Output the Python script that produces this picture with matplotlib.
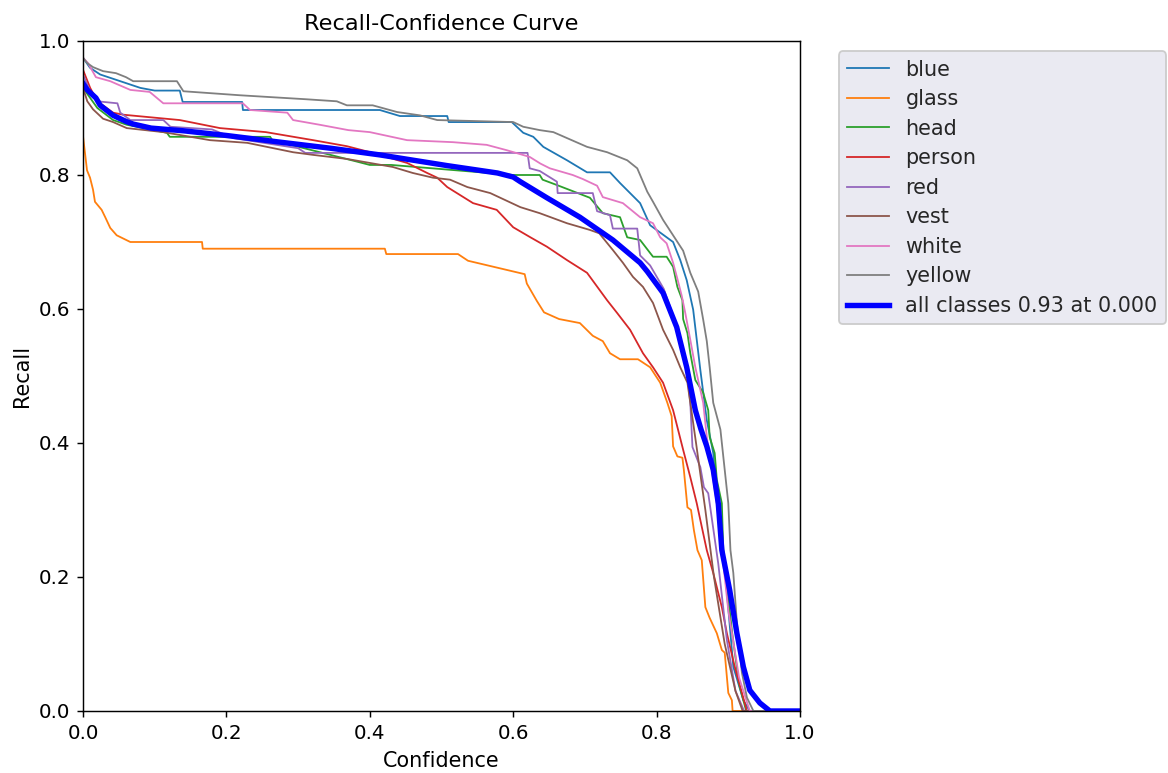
import matplotlib
matplotlib.use("Agg")
import matplotlib.pyplot as plt

class_names = ["blue", "glass", "head", "person", "red", "vest", "white", "yellow"]
class_colors = ["#1f77b4", "#ff7f0e", "#2ca02c", "#d62728", "#9467bd", "#8c564b", "#e377c2", "#7f7f7f"]

blue_conf = [0.0, 0.0098, 0.024, 0.052, 0.08, 0.10, 0.135, 0.139, 0.222, 0.223, 0.414, 0.442, 0.508, 0.510,
             0.598, 0.614, 0.628, 0.642, 0.675, 0.703, 0.735, 0.749, 0.777, 0.791, 0.823, 0.833, 0.842, 0.851,
             0.861, 0.870, 0.879, 0.884, 0.893, 0.907, 0.921, 0.930, 1.0]
blue_rec = [0.975, 0.96, 0.95, 0.94, 0.93, 0.926, 0.926, 0.909, 0.909, 0.897, 0.897, 0.888, 0.888, 0.879,
            0.879, 0.863, 0.857, 0.842, 0.822, 0.804, 0.804, 0.788, 0.758, 0.725, 0.70, 0.673, 0.643, 0.599,
            0.509, 0.434, 0.385, 0.31, 0.24, 0.066, 0.016, 0.0, 0.0]

glass_conf = [0.0, 0.0056, 0.0098, 0.014, 0.0167, 0.026, 0.031, 0.038, 0.047, 0.066, 0.166, 0.167, 0.421, 0.423,
              0.523, 0.537, 0.616, 0.619, 0.633, 0.643, 0.664, 0.693, 0.711, 0.725, 0.735, 0.749, 0.774, 0.791,
              0.805, 0.815, 0.821, 0.823, 0.829, 0.836, 0.838, 0.843, 0.848, 0.852, 0.857, 0.863, 0.868, 0.874,
              0.884, 0.891, 0.895, 0.900, 0.905, 0.906, 1.0]
glass_rec = [0.858, 0.807, 0.796, 0.778, 0.76, 0.748, 0.737, 0.721, 0.71, 0.70, 0.70, 0.69, 0.69, 0.682,
             0.682, 0.672, 0.652, 0.638, 0.612, 0.595, 0.585, 0.579, 0.560, 0.552, 0.534, 0.525, 0.525, 0.513,
             0.49, 0.46, 0.44, 0.395, 0.38, 0.378, 0.36, 0.304, 0.30, 0.27, 0.24, 0.225, 0.155, 0.139,
             0.116, 0.091, 0.087, 0.027, 0.016, 0.0, 0.0]

head_conf = [0.0, 0.02, 0.042, 0.061, 0.117, 0.121, 0.261, 0.264, 0.382, 0.400, 0.430, 0.600, 0.637, 0.641,
             0.661, 0.707, 0.725, 0.749, 0.759, 0.777, 0.795, 0.814, 0.823, 0.829, 0.836, 0.837, 0.843, 0.847,
             0.854, 0.865, 0.872, 0.874, 0.881, 0.884, 0.891, 0.893, 0.905, 0.915, 0.925, 1.0]
head_rec = [0.93, 0.90, 0.882, 0.875, 0.863, 0.857, 0.857, 0.852, 0.82, 0.815, 0.815, 0.80, 0.80, 0.793,
            0.785, 0.766, 0.743, 0.737, 0.707, 0.703, 0.678, 0.678, 0.663, 0.633, 0.613, 0.585, 0.564, 0.534,
            0.494, 0.475, 0.449, 0.409, 0.385, 0.345, 0.310, 0.24, 0.12, 0.04, 0.0, 0.0]

person_conf = [0.0, 0.01, 0.02, 0.042, 0.056, 0.135, 0.191, 0.255, 0.321, 0.368, 0.404, 0.452, 0.480, 0.494,
               0.508, 0.544, 0.577, 0.600, 0.624, 0.647, 0.675, 0.703, 0.731, 0.745, 0.763, 0.781, 0.795, 0.809,
               0.823, 0.837, 0.847, 0.856, 0.870, 0.879, 0.891, 0.898, 0.909, 0.919, 0.926, 1.0]
person_rec = [0.957, 0.93, 0.91, 0.893, 0.89, 0.882, 0.870, 0.864, 0.852, 0.843, 0.833, 0.818, 0.803, 0.796,
              0.782, 0.758, 0.748, 0.722, 0.707, 0.693, 0.673, 0.654, 0.613, 0.594, 0.569, 0.534, 0.513, 0.49,
              0.449, 0.39, 0.349, 0.31, 0.24, 0.206, 0.155, 0.116, 0.066, 0.027, 0.0, 0.0]

red_conf = [0.0, 0.01, 0.02, 0.048, 0.052, 0.066, 0.112, 0.122, 0.18, 0.21, 0.30, 0.31, 0.62, 0.623, 0.637,
            0.661, 0.662, 0.711, 0.717, 0.735, 0.739, 0.773, 0.777, 0.791, 0.81, 0.828, 0.842, 0.847, 0.850,
            0.861, 0.866, 0.872, 0.886, 0.898, 0.91, 0.922, 1.0]
red_rec = [0.95, 0.925, 0.91, 0.907, 0.893, 0.882, 0.882, 0.872, 0.868, 0.855, 0.84, 0.833, 0.833, 0.81, 0.806,
           0.79, 0.773, 0.773, 0.746, 0.74, 0.72, 0.72, 0.68, 0.665, 0.63, 0.575, 0.51, 0.46, 0.394,
           0.364, 0.334, 0.325, 0.22, 0.106, 0.03, 0.0, 0.0]

vest_conf = [0.0, 0.006, 0.014, 0.028, 0.042, 0.061, 0.112, 0.177, 0.229, 0.293, 0.321, 0.368, 0.432, 0.46,
             0.488, 0.512, 0.536, 0.568, 0.61, 0.637, 0.675, 0.707, 0.720, 0.739, 0.753, 0.767, 0.781, 0.795,
             0.809, 0.823, 0.833, 0.843, 0.855, 0.868, 0.88, 0.895, 0.91, 0.92, 1.0]
vest_rec = [0.93, 0.91, 0.898, 0.884, 0.879, 0.870, 0.864, 0.852, 0.848, 0.834, 0.830, 0.824, 0.812, 0.803,
            0.796, 0.793, 0.782, 0.773, 0.752, 0.743, 0.728, 0.718, 0.713, 0.688, 0.669, 0.648, 0.633, 0.609,
            0.569, 0.539, 0.513, 0.49, 0.40, 0.30, 0.2, 0.1, 0.03, 0.0, 0.0]

white_conf = [0.0, 0.007, 0.018, 0.038, 0.066, 0.093, 0.112, 0.223, 0.233, 0.285, 0.293, 0.33, 0.37, 0.40,
              0.452, 0.516, 0.563, 0.591, 0.623, 0.638, 0.651, 0.683, 0.697, 0.717, 0.725, 0.753, 0.777, 0.795,
              0.805, 0.814, 0.823, 0.829, 0.835, 0.840, 0.847, 0.854, 0.865, 0.870, 0.877, 0.884, 0.889, 0.90,
              0.915, 0.93, 1.0]
white_rec = [0.975, 0.967, 0.946, 0.94, 0.927, 0.924, 0.907, 0.907, 0.897, 0.893, 0.882, 0.875, 0.867, 0.864,
             0.852, 0.849, 0.845, 0.837, 0.827, 0.817, 0.81, 0.80, 0.794, 0.784, 0.767, 0.758, 0.737, 0.728,
             0.707, 0.698, 0.669, 0.645, 0.62, 0.594, 0.554, 0.513, 0.46, 0.409, 0.36, 0.31, 0.26, 0.15,
             0.05, 0.0, 0.0]

yellow_conf = [0.0, 0.006, 0.014, 0.028, 0.046, 0.060, 0.070, 0.131, 0.140, 0.219, 0.312, 0.354, 0.368, 0.404,
               0.438, 0.470, 0.494, 0.600, 0.614, 0.637, 0.656, 0.703, 0.731, 0.759, 0.773, 0.777, 0.787, 0.795,
               0.809, 0.823, 0.837, 0.847, 0.858, 0.865, 0.870, 0.874, 0.879, 0.889, 0.895, 0.900, 0.903, 0.907,
               0.912, 0.919, 0.926, 0.935, 1.0]
yellow_rec = [0.975, 0.967, 0.961, 0.955, 0.952, 0.946, 0.940, 0.940, 0.925, 0.919, 0.913, 0.910, 0.904, 0.904,
              0.894, 0.889, 0.882, 0.879, 0.872, 0.867, 0.864, 0.842, 0.834, 0.822, 0.81, 0.80, 0.775, 0.76,
              0.733, 0.71, 0.687, 0.654, 0.626, 0.584, 0.552, 0.513, 0.46, 0.42, 0.36, 0.31, 0.24, 0.206,
              0.131, 0.057, 0.02, 0.0, 0.0]

all_conf = [0.0, 0.006, 0.018, 0.024, 0.042, 0.06, 0.07, 0.095, 0.14, 0.2, 0.275, 0.345, 0.414, 0.508, 0.578,
            0.600, 0.610, 0.647, 0.693, 0.739, 0.777, 0.787, 0.809, 0.828, 0.842, 0.854, 0.862, 0.870, 0.879,
            0.886, 0.891, 0.902, 0.912, 0.921, 0.930, 0.944, 0.958, 1.0]
all_rec = [0.937, 0.927, 0.915, 0.904, 0.889, 0.880, 0.876, 0.870, 0.866, 0.859, 0.849, 0.84, 0.83, 0.814, 0.803,
           0.797, 0.79, 0.766, 0.737, 0.703, 0.669, 0.656, 0.624, 0.573, 0.513, 0.449, 0.42, 0.395, 0.36,
           0.31, 0.24, 0.18, 0.116, 0.066, 0.031, 0.012, 0.0, 0.0]
all_label = "all classes 0.93 at 0.000"

series = [(blue_conf, blue_rec), (glass_conf, glass_rec), (head_conf, head_rec), (person_conf, person_rec),
          (red_conf, red_rec), (vest_conf, vest_rec), (white_conf, white_rec), (yellow_conf, yellow_rec)]

DPI = 129.8
fig = plt.figure(figsize=(1168 / DPI, 773 / DPI), dpi=DPI)
ax = fig.add_axes([83 / 1168, 62 / 773, 717 / 1168, 670 / 773])

for name, color, (xs, ys) in zip(class_names, class_colors, series):
    ax.plot(xs, ys, linewidth=1, color=color, label=name)
ax.plot(all_conf, all_rec, linewidth=3, color="blue", label=all_label)

ax.set_xlim(0, 1)
ax.set_ylim(0, 1)
ax.tick_params(labelsize=11)
ax.set_xlabel("Confidence", fontsize=11.5, labelpad=4.5)
ax.set_ylabel("Recall", fontsize=11.5)
ax.set_title("Recall-Confidence Curve", fontsize=12.4)

leg = ax.legend(bbox_to_anchor=(1.04, 1), loc="upper left", facecolor="#EAEAF2", framealpha=1.0,
                edgecolor="#CCCCCC", fontsize=11.5, labelspacing=0.46, handlelength=2.0)
for t in leg.get_texts():
    t.set_color("#262626")

fig.savefig("out.png", dpi=DPI)
